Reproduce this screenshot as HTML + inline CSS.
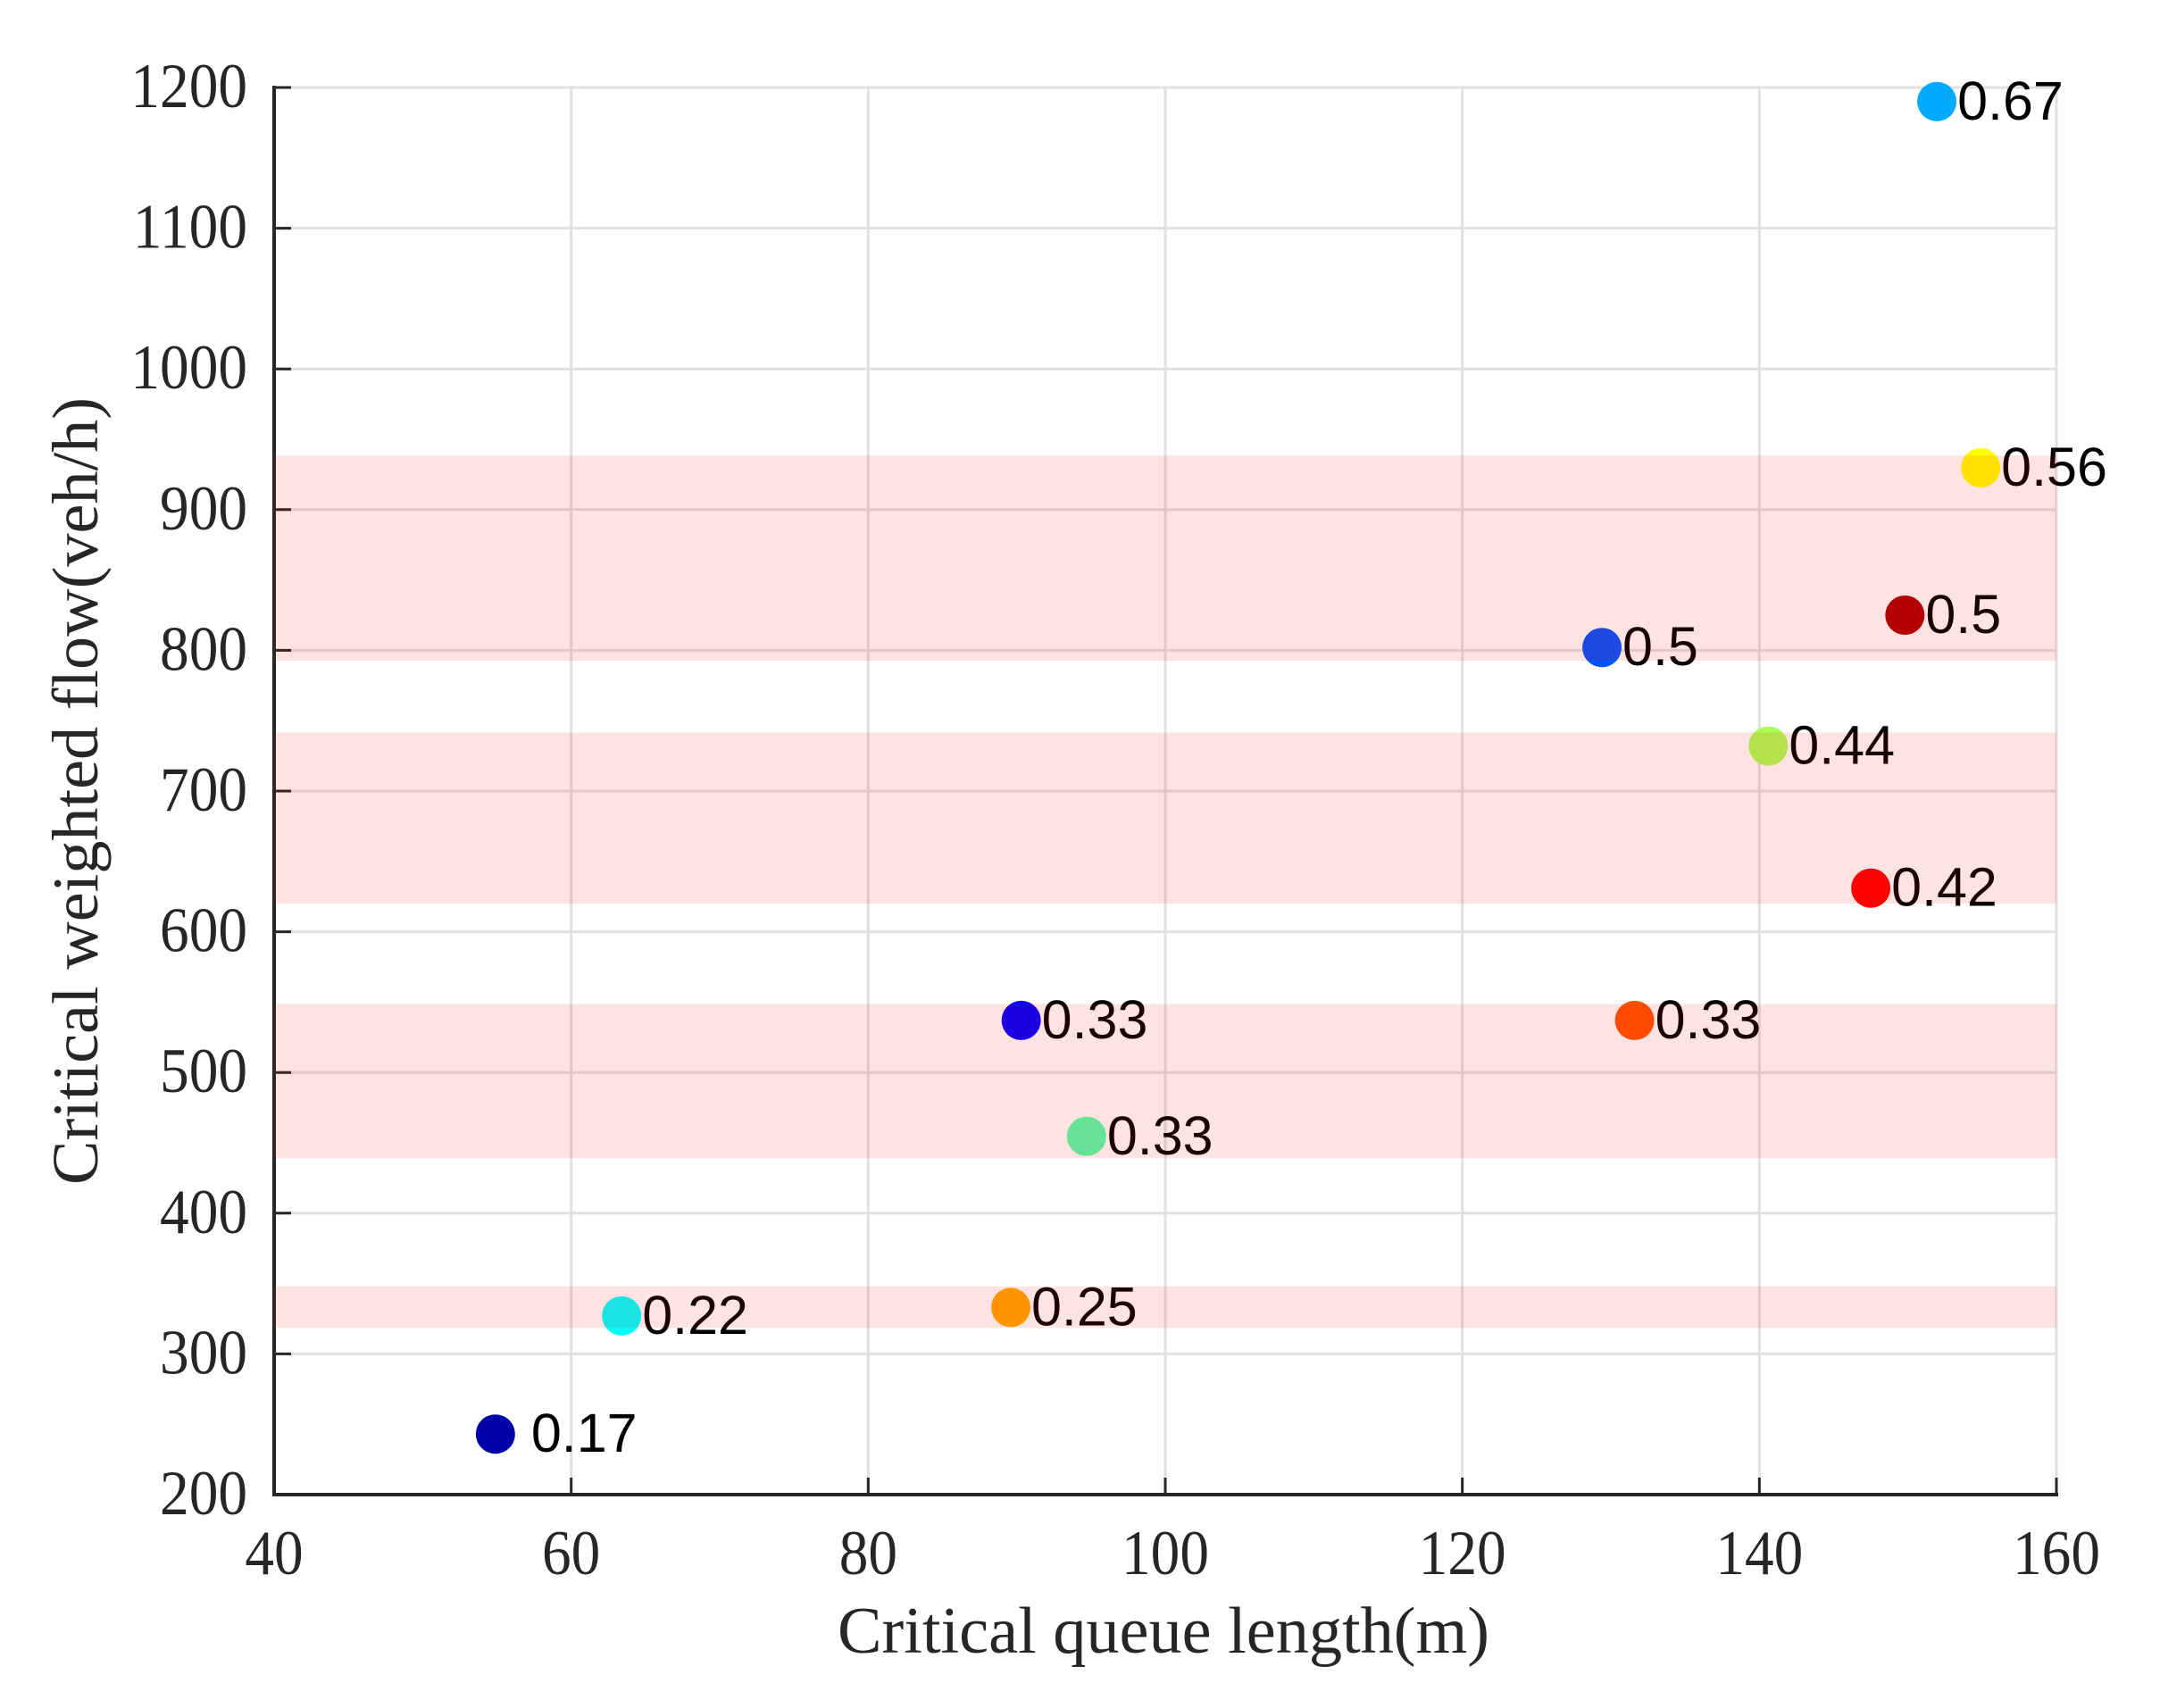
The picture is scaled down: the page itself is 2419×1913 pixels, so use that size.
<!DOCTYPE html>
<html>
<head>
<meta charset="utf-8">
<style>
html,body{margin:0;padding:0;background:#fff;width:2419px;height:1913px;overflow:hidden}
svg{display:block}
.serif{font-family:"Liberation Serif",serif;fill:#262626}
.sans{font-family:"Liberation Sans",sans-serif;fill:#000}
</style>
</head>
<body>
<svg id="chart" width="2419" height="1913" viewBox="0 0 2419 1913" xmlns="http://www.w3.org/2000/svg">
<text id="xt" class="serif" x="1303" y="1851" text-anchor="middle" font-size="74" textLength="730" lengthAdjust="spacingAndGlyphs">Critical queue length(m)</text>
<text id="yt" class="serif" transform="translate(109,886) rotate(-90)" text-anchor="middle" font-size="73" textLength="882" lengthAdjust="spacingAndGlyphs">Critical weighted flow(veh/h)</text>
</svg>
<script>
const xTicks = [40, 60, 80, 100, 120, 140, 160];
const yTicks = [200, 300, 400, 500, 600, 700, 800, 900, 1000, 1100, 1200];
const pointX = [151.95, 154.9, 149.8, 129.4, 140.6, 147.5, 90.3, 131.6, 94.7, 89.6, 63.4, 54.9];
const pointY = [1190, 929.7, 825, 802, 732, 631, 537, 537, 454.6, 333, 327, 243];
const pointLabels = ['0.67', '0.56', '0.5', '0.5', '0.44', '0.42', '0.33', '0.33', '0.33', '0.25', '0.22', '0.17'];
const pointColors = ['#00aaff', '#ffff00', '#aa0000', '#0055ff', '#aaff55', '#ff0000', '#0000ff', '#ff5500', '#55ffaa', '#ffaa00', '#00ffff', '#0000aa'];
const bandLow = [792.6, 620, 439, 318.5];
const bandHigh = [938.5, 741.6, 548.7, 348];

const svg = document.getElementById('chart');
const NS = 'http://www.w3.org/2000/svg';
const left = 307, right = 2303, top_ = 98, bottom = 1674;
function xScale(v) { return left + (v - 40) / 120 * (right - left); }
function yScale(v) { return bottom - (v - 200) / 1000 * (bottom - top_); }
function make(tag, attrs) {
  const el = document.createElementNS(NS, tag);
  for (const k in attrs) el.setAttribute(k, attrs[k]);
  svg.appendChild(el);
  return el;
}
function gapFor(label) { return label === '0.17' ? 40 : 23; }

// grid
xTicks.forEach(function (t) {
  const el = make('line', { x1: xScale(t), x2: xScale(t), y1: top_, y2: bottom, stroke: '#e0e0e0', 'stroke-width': 3 });
  
  
});
yTicks.forEach(function (t) {
  const el = make('line', { x1: left, x2: right, y1: yScale(t), y2: yScale(t), stroke: '#e0e0e0', 'stroke-width': 3 });
  
  
});

// axes
const xAxis = make('line', { x1: left - 2, x2: right + 2, y1: bottom, y2: bottom, stroke: '#262626', 'stroke-width': 4 });


const yAxis = make('line', { x1: left, x2: left, y1: top_ - 2, y2: bottom + 2, stroke: '#262626', 'stroke-width': 4 });



// ticks and tick labels
xTicks.forEach(function (t) {
  const tick = make('line', { x1: xScale(t), x2: xScale(t), y1: bottom, y2: bottom - 19, stroke: '#262626', 'stroke-width': 3 });
  
  
  const lab = make('text', { class: 'serif', 'font-size': 71, 'text-anchor': 'middle', transform: 'translate(' + xScale(t) + ',1763) scale(0.92,1)' });
  lab.textContent = t;
  
  
});
yTicks.forEach(function (t) {
  const tick = make('line', { x1: left, x2: left + 19, y1: yScale(t), y2: yScale(t), stroke: '#262626', 'stroke-width': 3 });
  
  
  const lab = make('text', { class: 'serif', 'font-size': 71, 'text-anchor': 'end', transform: 'translate(277,' + (yScale(t) + 22) + ') scale(0.92,1)' });
  lab.textContent = t;
  
  
});

// points and labels
pointX.forEach(function (v, i) {
  const c = make('circle', { cx: xScale(v), cy: yScale(pointY[i]), r: 22, fill: pointColors[i] });
  
  
  const lab = make('text', { class: 'sans', 'font-size': 61, x: xScale(v) + gapFor(pointLabels[i]), y: yScale(pointY[i]) + 20 });
  lab.textContent = pointLabels[i];
  
  
});

// translucent bands sit above everything else
bandLow.forEach(function (v, i) {
  const b = make('rect', { x: left, width: right - left, y: yScale(bandHigh[i]), height: yScale(v) - yScale(bandHigh[i]), fill: '#ff0000', 'fill-opacity': 0.115 });
  
  
});
</script>
</body>
</html>
